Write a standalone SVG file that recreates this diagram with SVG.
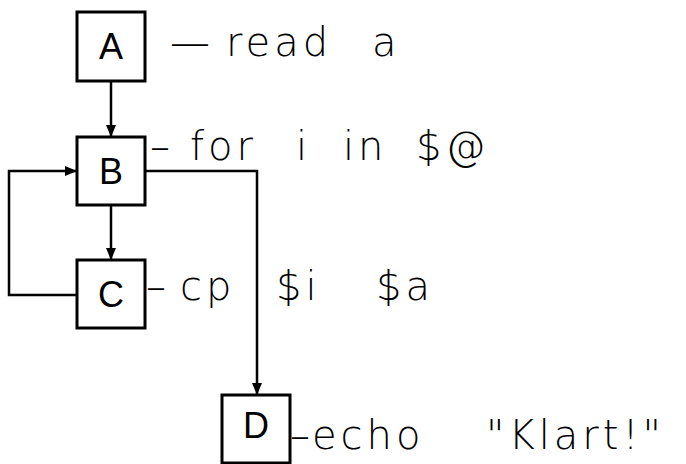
<svg xmlns="http://www.w3.org/2000/svg" width="686" height="464" viewBox="0 0 686 464">
<defs>
<marker id="arr" markerWidth="12" markerHeight="10" refX="11" refY="5" orient="auto" markerUnits="userSpaceOnUse">
<path d="M0,0 L12,5 L0,10 Z" fill="#000"/>
</marker>
<style>
.box{fill:#fff;stroke:#000;stroke-width:3}
.lbl{font-family:"Liberation Sans",Arial,sans-serif;font-size:36px;text-anchor:middle;fill:#000}
.hw{font-family:"DejaVu Sans","Liberation Sans",sans-serif;font-weight:200;font-size:40px;letter-spacing:4px;fill:#000}
.edge{fill:none;stroke:#000;stroke-width:2.5}
</style>
</defs>
<rect width="686" height="464" fill="#fff"/>
<g id="connectors">
<path class="edge" d="M111,81 V136" marker-end="url(#arr)"/>
<path class="edge" d="M111,205 V259" marker-end="url(#arr)"/>
<path class="edge" d="M77,295 H9 V171 H76" marker-end="url(#arr)"/>
<path class="edge" d="M145,171 H257 V394" marker-end="url(#arr)"/>
</g>
<g id="A">
<rect class="box" x="77" y="12" width="68" height="69"/>
<text class="lbl" x="111" y="59">A</text>
</g>
<g id="B">
<rect class="box" x="77" y="137" width="68" height="68"/>
<text class="lbl" x="111" y="184">B</text>
</g>
<g id="C">
<rect class="box" x="77" y="260" width="68" height="68"/>
<text class="lbl" x="111" y="307">C</text>
</g>
<g id="D">
<rect class="box" x="222" y="395" width="68" height="68"/>
<text class="lbl" x="256" y="438">D</text>
</g>
<g id="notes">
<text class="hw" y="56"><tspan x="170">—</tspan><tspan x="226">read</tspan><tspan x="372">a</tspan></text>
<text class="hw" y="160"><tspan x="150">–</tspan><tspan x="190">for</tspan><tspan x="296">i</tspan><tspan x="343">in</tspan><tspan x="416">$@</tspan></text>
<text class="hw" y="300"><tspan x="146">–</tspan><tspan x="180">cp</tspan><tspan x="276">$i</tspan><tspan x="376">$a</tspan></text>
<text class="hw" y="449"><tspan x="290">–</tspan><tspan x="312">echo</tspan><tspan x="486">"Klart!"</tspan></text>
</g>
</svg>
